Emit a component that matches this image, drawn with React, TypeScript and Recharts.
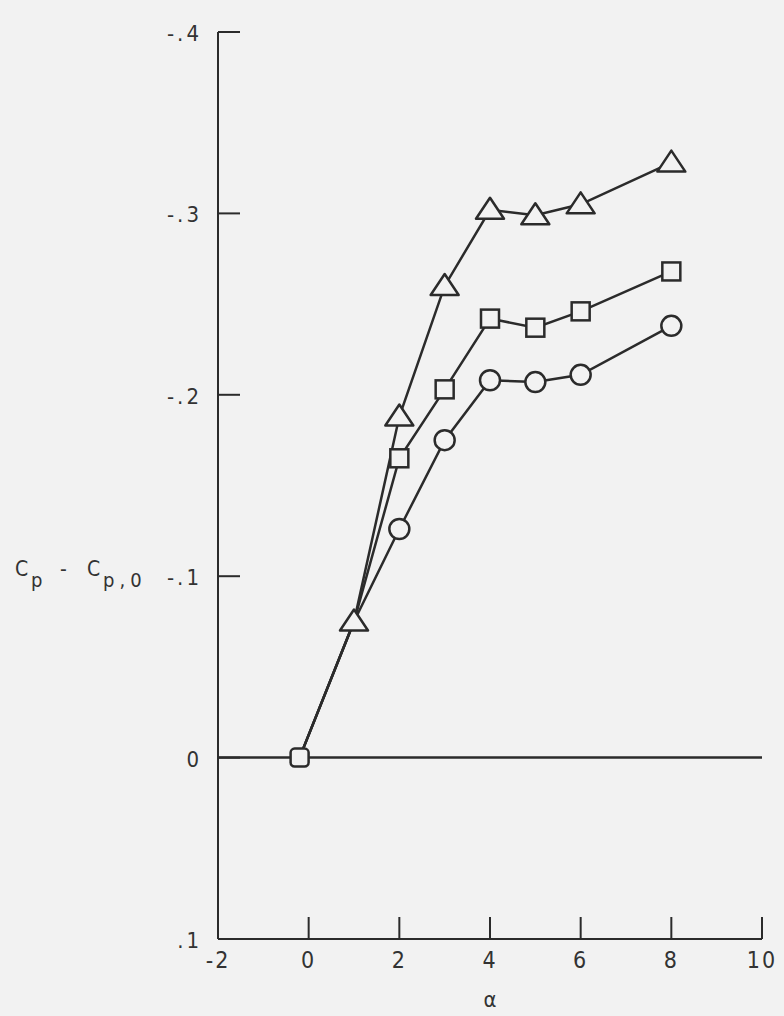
import React from "react";
import { LineChart, Line, XAxis, YAxis, ReferenceLine } from "recharts";

// angle of attack, deg
const alpha = [-0.2, 1, 2, 3, 4, 5, 6, 8];
// Cp - Cp,0 for the three symbol sets
const circleVals = [0, -0.075, -0.126, -0.175, -0.208, -0.207, -0.211, -0.238];
const squareVals = [0, -0.075, -0.165, -0.203, -0.242, -0.237, -0.246, -0.268];
const triangleVals = [0, -0.075, -0.188, -0.26, -0.302, -0.299, -0.305, -0.328];

const xTicks = [-2, 0, 2, 4, 6, 8, 10];
const yTicks = [-0.4, -0.3, -0.2, -0.1, 0, 0.1];

const data = alpha.map((a, i) => ({
  alpha: a,
  circle: circleVals[i],
  square: squareVals[i],
  triangle: triangleVals[i],
}));

const INK = "#2b2b2b";
const PAPER = "#f2f2f2";
const FONT = "'DejaVu Sans Condensed', 'DejaVu Sans', sans-serif";

const fmtY = (v: number) => {
  if (v === 0) return "0";
  const s = Math.abs(v).toFixed(1).replace(/^0/, "");
  return v < 0 ? "-" + s : s;
};

function YTick(props: any) {
  const { x, y, payload } = props;
  const axisX = x + 16;
  return (
    <g>
      <line x1={axisX} x2={axisX + 22} y1={y} y2={y} stroke={INK} strokeWidth={2} />
      <text x={x} y={y} dy={9} textAnchor="end" fontFamily={FONT} fontSize={22}
        letterSpacing={3} fill="#333">
        {fmtY(payload.value)}
      </text>
    </g>
  );
}

function XTick(props: any) {
  const { x, y, payload } = props;
  const axisY = y - 10;
  return (
    <g>
      {payload.value !== -2 && (
        <line x1={x} x2={x} y1={axisY} y2={axisY - 22} stroke={INK} strokeWidth={2} />
      )}
      <text x={x} y={y} dy={19} textAnchor="middle" fontFamily={FONT} fontSize={23}
        letterSpacing={2} fill="#333">
        {payload.value}
      </text>
    </g>
  );
}

const circleDot = (p: any) =>
  p.index < 2 ? (
    <g key={p.key} />
  ) : (
    <circle key={p.key} cx={p.cx} cy={p.cy} r={10} fill={PAPER} stroke={INK} strokeWidth={2.5} />
  );

const squareDot = (p: any) =>
  p.index === 1 ? (
    <g key={p.key} />
  ) : (
    <rect key={p.key} x={p.cx - 9} y={p.cy - 9} width={18} height={18} rx={p.index === 0 ? 4 : 0}
      fill={PAPER} stroke={INK} strokeWidth={2.5} />
  );

const triangleDot = (p: any) =>
  p.index === 0 ? (
    <g key={p.key} />
  ) : (
    <path key={p.key}
      d={`M${p.cx},${p.cy - 12} L${p.cx + 14},${p.cy + 9} L${p.cx - 14},${p.cy + 9} Z`}
      fill={PAPER} stroke={INK} strokeWidth={2.5} strokeLinejoin="round" />
  );

const YTitle = (props: any) => {
  const { viewBox } = props;
  const y = viewBox.y + viewBox.height * 0.6;
  return (
    <text y={y} fontFamily={FONT} fontSize={21} fill="#333">
      <tspan x={15}>C</tspan>
      <tspan x={31} dy={11} fontSize={20}>p</tspan>
      <tspan x={60} dy={-11}>-</tspan>
      <tspan x={87}>C</tspan>
      <tspan x={103} dy={11} fontSize={20} letterSpacing={5}>p,0</tspan>
    </text>
  );
};

const XTitle = (props: any) => {
  const { viewBox } = props;
  return (
    <text x={viewBox.x + viewBox.width / 2} y={viewBox.y + 68} textAnchor="middle"
      fontFamily={FONT} fontSize={22} fill="#333">
      α
    </text>
  );
};

export default function App() {
  return (
    <div style={{ position: "absolute", left: 0, top: 0, width: 784, height: 1016, background: PAPER }}>
      <LineChart width={784} height={1016} data={data}
        margin={{ top: 32, right: 22, bottom: 0, left: 158 }}>
        <XAxis type="number" dataKey="alpha" domain={[-2, 10]} ticks={xTicks}
          axisLine={{ stroke: INK, strokeWidth: 2 }} tickLine={false} tickSize={0} tickMargin={10}
          tick={<XTick />} height={77} label={<XTitle />} />
        <YAxis type="number" domain={[-0.4, 0.1]} ticks={yTicks} reversed width={60}
          axisLine={{ stroke: INK, strokeWidth: 2 }} tickLine={false} tickSize={0} tickMargin={16}
          tick={<YTick />} label={<YTitle />} />
        <ReferenceLine y={0} stroke={INK} strokeWidth={2.5} />
        <Line dataKey="circle" type="linear" stroke={INK} strokeWidth={2.5} dot={circleDot}
          activeDot={false} isAnimationActive={false} />
        <Line dataKey="square" type="linear" stroke={INK} strokeWidth={2.5} dot={squareDot}
          activeDot={false} isAnimationActive={false} />
        <Line dataKey="triangle" type="linear" stroke={INK} strokeWidth={2.5} dot={triangleDot}
          activeDot={false} isAnimationActive={false} />
      </LineChart>
    </div>
  );
}
